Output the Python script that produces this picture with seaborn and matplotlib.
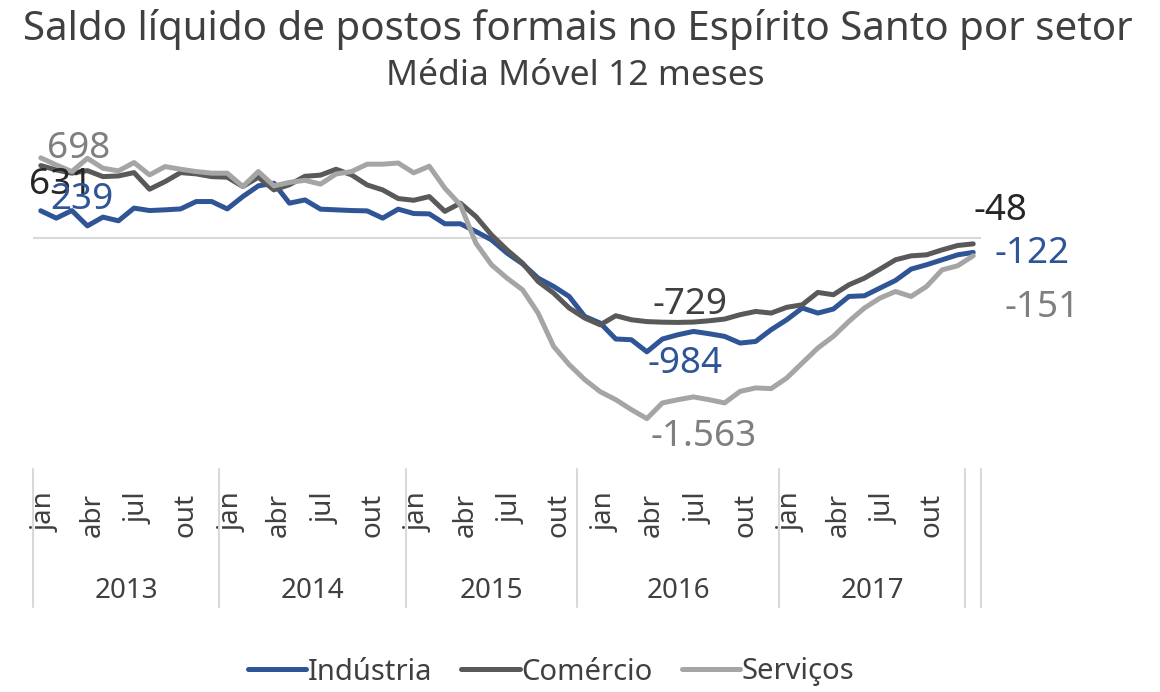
import numpy as np
import pandas as pd
import matplotlib
matplotlib.use("Agg")
import matplotlib.pyplot as plt
import matplotlib.transforms as mtransforms
import seaborn as sns

# ---------------------------------------------
# DATA  (media movel 12 meses, jan/2013 .. jan/2018)
# ---------------------------------------------
MESES = ["jan", "fev", "mar", "abr", "mai", "jun",
         "jul", "ago", "set", "out", "nov", "dez"]

# year groups of the category axis, as they appear in the chart
ANOS       = ["2013", "2014", "2015", "2016", "2017", ""]
ANOS_MESES = [12, 12, 11, 13, 12, 1]

industria = [239, 175, 241, 108, 184, 152, 262, 241, 247, 255, 319, 319,
             255, 362, 455, 478, 305, 333, 253, 247, 241, 238, 175, 253,
             215, 212, 126, 126, 59, -13, -128, -221, -345, -417, -504, -677,
             -735, -873, -879, -984, -873, -836, -807, -827, -850, -908, -894, -792,
             -706, -604, -648, -613, -504, -498, -431, -365, -267, -229, -186, -143,
             -122]

comercio = [631, 593, 565, 587, 535, 541, 570, 426, 492, 570, 559, 535,
            530, 449, 530, 420, 465, 538, 548, 599, 550, 463, 420, 345,
            330, 362, 234, 305, 189, 30, -100, -215, -374, -475, -604, -691,
            -750, -671, -706, -722, -727, -729, -726, -715, -700, -662, -634, -648,
            -598, -576, -469, -489, -403, -345, -267, -186, -152, -143, -100, -62,
            -48]

servicos = [698, 636, 579, 694, 608, 585, 657, 550, 622, 599, 579, 565,
            565, 449, 579, 455, 485, 503, 470, 558, 579, 643, 643, 653,
            568, 625, 435, 290, -42, -229, -345, -446, -648, -937, -1095, -1225,
            -1330, -1399, -1485, -1563, -1427, -1399, -1375, -1399, -1427, -1327, -1297, -1303,
            -1211, -1081, -951, -850, -720, -604, -518, -461, -504, -417, -273, -238,
            -151]

SETORES = ["Indústria", "Comércio", "Serviços"]
CORES   = {"Indústria": "#2F5597", "Comércio": "#595959", "Serviços": "#A5A5A5"}

TXT = "#404040"
FONT = ["Noto Sans", "DejaVu Sans"]


def fmt(v):
    # portuguese thousands separator
    return f"{v:,}".replace(",", ".")


# ---------------------------------------------
# FIGURE
# ---------------------------------------------
sns.set_style("white")
plt.rcParams["font.family"] = FONT

W, H = 1160, 692
fig = plt.figure(figsize=(W / 100, H / 100), dpi=100)
ax = fig.add_axes([33 / W, (H - 469) / H, (981 - 33) / W, (469 - 123) / H])

n = len(industria)
df = pd.DataFrame({"mes": np.arange(n), "Indústria": industria,
                   "Comércio": comercio, "Serviços": servicos})
long = df.melt(id_vars="mes", var_name="setor", value_name="saldo")

ax.axhline(0, color="#D9D9D9", lw=1.5, zorder=0)
sns.lineplot(data=long, x="mes", y="saldo", hue="setor", hue_order=SETORES,
             palette=CORES, linewidth=3.6, ax=ax, legend=True)
for ln in ax.lines:
    ln.set_solid_joinstyle("round")
    ln.set_solid_capstyle("round")

ax.set_xlim(-0.5, n - 0.5)
ax.set_ylim(-2000, 1000)
ax.set_yticks([])
ax.set_xlabel("")
ax.set_ylabel("")
sns.despine(ax=ax, left=True, bottom=True)

# month labels (every 3rd category)
pos = list(range(0, n - 1, 3))
ax.set_xticks(pos)
ax.set_xticklabels([MESES[p % 12] for p in pos], rotation=90,
                   fontsize=20, color=TXT)
ax.tick_params(axis="x", length=0, pad=17)
shift = mtransforms.ScaledTranslation(5 / 100, 0, fig.dpi_scale_trans)
for lab in ax.get_xticklabels():
    lab.set_transform(lab.get_transform() + shift)

# year groups + separators
trans = ax.get_xaxis_transform()
bounds = np.concatenate([[0], np.cumsum(ANOS_MESES)]) - 0.5
for b in bounds:
    ax.plot([b, b], [0, -0.40], transform=trans, color="#D9D9D9",
            lw=1.5, clip_on=False)
for ano, a, b in zip(ANOS, bounds[:-1], bounds[1:]):
    ax.text((a + b) / 2, -0.353, ano, transform=trans, ha="center",
            va="center", fontsize=20, color=TXT)

# data labels: (serie, index, dx px, dy px, color)
series = {"Indústria": industria, "Comércio": comercio, "Serviços": servicos}
rotulos = [
    ("Serviços", 0, 38, 9, "#7F7F7F"),
    ("Comércio", 0, 20, -19, "#262626"),
    ("Indústria", 0, 41, 11, "#2F5597"),
    ("Comércio", n - 1, 27, 33, "#262626"),
    ("Indústria", n - 1, 59, -2, "#2F5597"),
    ("Serviços", n - 1, 69, -52, "#7F7F7F"),
    ("Comércio", 41, 12, 17, "#404040"),
    ("Indústria", 39, 38, -12, "#2F5597"),
    ("Serviços", 39, 57, -18, "#7F7F7F"),
]
for nome, i, dx, dy, cor in rotulos:
    v = series[nome][i]
    ax.annotate(fmt(v), (i, v), xytext=(dx, dy), textcoords="offset pixels",
                ha="center", va="center", fontsize=26.5, color=cor,
                annotation_clip=False)

# titles
fig.text(578 / W, 1 - 40 / H, "Saldo líquido de postos formais no Espírito Santo por setor",
         ha="center", va="baseline", fontsize=29, color=TXT)
fig.text(575 / W, 1 - 85 / H, "Média Móvel 12 meses",
         ha="center", va="baseline", fontsize=25.5, color=TXT)

# legend
handles, labels = ax.get_legend_handles_labels()
ax.get_legend().remove()
for h in handles:
    h.set_linewidth(3.6)
fig.legend(handles, labels, loc="center", bbox_to_anchor=(551 / W, 1 - 672 / H),
           ncol=3, frameon=False, fontsize=21, handlelength=2.0,
           handletextpad=0.05, columnspacing=1.0, labelcolor=TXT)

fig.savefig("out.png", dpi=100)
plt.close(fig)
